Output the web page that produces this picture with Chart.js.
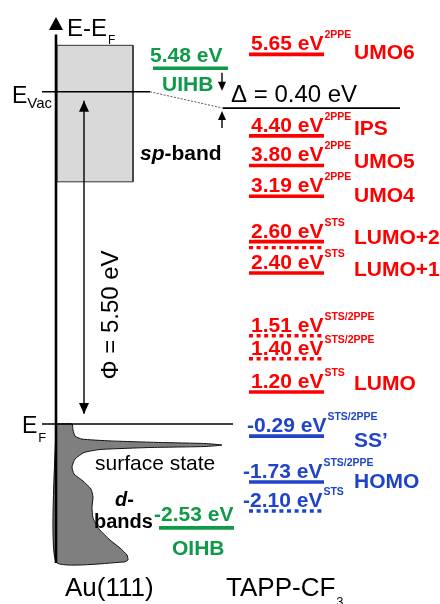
<!DOCTYPE html>
<html><head><meta charset="utf-8">
<script src="https://cdn.jsdelivr.net/npm/chart.js@4.4.0/dist/chart.umd.min.js"></script>
<style>html,body{margin:0;padding:0;background:#fff}#wrap{width:440px;height:604px;position:relative}</style>
</head><body><div id="wrap"><canvas id="c"></canvas></div>
<script>
// ---------- DATA (energies in eV; "drawn" = schematic height on the diagram's E-E_F axis) ----------
const levelValues    = ['5.65','4.40','3.80','3.19','2.60','','2.40','1.51','1.40','1.20','-0.29','-1.73','-2.10'];
const levelMethods   = ['2PPE','2PPE','2PPE','2PPE','STS','','STS','STS/2PPE','STS/2PPE','STS','STS/2PPE','STS/2PPE','STS'];
const levelNames     = ['UMO6','IPS','UMO5','UMO4','LUMO+2','','LUMO+1','','','LUMO','SS\u2019','HOMO',''];
const levelDrawn     = [6.12, 4.77, 4.28, 3.77, 3.02, 2.92, 2.50, 1.46, 1.08, 0.53, -0.20, -0.96, -1.44];
const levelTentative = [false,false,false,false,false,true,false,true,true,false,false,false,true];
const levelOccupied  = [false,false,false,false,false,false,false,false,false,false,true,true,true];

const imageStateNames  = ['UIHB','OIHB'];
const imageStateValues = ['5.48','-2.53'];
const imageStateDrawn  = [5.89, -1.72];

const workFunction   = '5.50';   // Φ
const vacuumShift    = '0.40';   // Δ
const metalVacuum    = 5.50;     // E_Vac of Au(111), drawn
const moleculeVacuum = 5.23;     // E_Vac above TAPP-CF3, drawn (schematic)
const fermiLevel     = 0;
const spBandTop = 6.27, spBandBottom = 4.01;

// schematic density of states outline of Au(111) (surface state + d-bands)
const dosEnergy = [0, 0, -0.10, -0.20, -0.25, -0.28, -0.306, -0.323, -0.348, -0.373, -0.389, -0.422, -0.472, -0.579, -0.712, -0.828, -0.944, -1.076, -1.209, -1.374, -1.556, -1.738, -1.921, -2.053, -2.169, -2.252, -2.285, -2.285, 0];
const dosWeight = [0, 16, 17, 19, 26, 54, 104, 149, 166, 149, 94, 44, 28, 19, 16, 18, 27, 35, 37, 36, 37, 43, 54, 64, 71, 72, 68, 0, 0];

// ---------- LAYOUT / STYLE ----------
const RED = '#ff0000', BLUE = '#1f44c8', GREEN = '#0f9a48';
const FF = '"Liberation Sans", Arial, Helvetica, sans-serif';
const axisX = 56;
const molX0 = 249, molX1 = 324;
const nameOffset = [5,-1,3,6,2,0,3,0,0,-2,11,6,0];

const datasets = [];
function seg(pts, opt) {
  datasets.push(Object.assign({data: pts.map(p => ({x: p[0], y: p[1]})), showLine: true, pointRadius: 0,
    borderColor: '#000', borderWidth: 1.5, fill: false, tension: 0, order: 1}, opt));
}
// sp-band box
seg([[57, spBandTop],[133, spBandTop],[133, spBandBottom],[57, spBandBottom],[57, spBandTop]],
  {fill: 'shape', backgroundColor: '#d9d9d9', borderColor: '#333', borderWidth: 1, order: 20});
// d-band DOS
seg(dosEnergy.map((e, i) => [axisX + dosWeight[i], e]),
  {fill: 'shape', backgroundColor: '#7f7f7f', borderColor: '#111', borderWidth: 1, tension: 0.15, order: 19});
// vertical energy axis
seg([[axisX, -2.30],[axisX, 6.45]], {borderWidth: 2.6, order: 2});
// vacuum levels and Fermi level
seg([[42, metalVacuum],[150, metalVacuum]], {borderWidth: 1.6});
seg([[150, metalVacuum],[223, moleculeVacuum]], {borderWidth: 1, borderColor: '#555', borderDash: [2, 1.5]});
seg([[223, moleculeVacuum],[400, moleculeVacuum]], {borderWidth: 1.6});
seg([[42, fermiLevel],[233, fermiLevel]], {borderWidth: 1.6});
// work-function arrow shaft
seg([[84, fermiLevel + 0.17],[84, metalVacuum - 0.15]], {borderWidth: 1.4});
// image-potential states of the metal
seg([[153, imageStateDrawn[0]],[228, imageStateDrawn[0]]], {borderColor: GREEN, borderWidth: 3.6});
seg([[159, imageStateDrawn[1]],[234, imageStateDrawn[1]]], {borderColor: GREEN, borderWidth: 3.6});
// molecular levels
levelDrawn.forEach((v, i) => {
  const col = levelOccupied[i] ? BLUE : RED;
  seg([[molX0 - (levelTentative[i] ? 0 : 0), v],[levelTentative[i] ? molX1 - 2 : molX1, v]],
    {borderColor: col, borderWidth: levelTentative[i] ? 3.4 : 3.6,
     borderDash: levelTentative[i] ? [4, 3.6] : undefined, borderCapStyle: 'butt'});
});

const annot = {
  id: 'annot',
  afterDatasetsDraw(chart) {
    const ctx = chart.ctx, X = v => chart.scales.x.getPixelForValue(v), Y = v => chart.scales.y.getPixelForValue(v);
    function t(s, x, y, font, col, align, base) {
      ctx.save(); ctx.font = font; ctx.fillStyle = col || '#000'; ctx.textAlign = align || 'left';
      ctx.textBaseline = base || 'alphabetic'; ctx.fillText(s, x, y); const w = ctx.measureText(s).width; ctx.restore(); return w;
    }
    function head(x, yTip, dir, hw, len) {
      ctx.save(); ctx.fillStyle = '#000'; ctx.beginPath(); ctx.moveTo(x, yTip);
      ctx.lineTo(x - hw, yTip + dir * len); ctx.lineTo(x + hw, yTip + dir * len); ctx.closePath(); ctx.fill(); ctx.restore();
    }
    function line(x0, y0, x1, y1, w) {
      ctx.save(); ctx.strokeStyle = '#000'; ctx.lineWidth = w; ctx.beginPath(); ctx.moveTo(x0, y0); ctx.lineTo(x1, y1); ctx.stroke(); ctx.restore();
    }
    // axis arrow head + label
    head(X(axisX), 17, 1, 7, 13);
    const w1 = t('E-E', 67, 36, '24px ' + FF);
    t('F', 67 + w1 + 1, 44, '12px ' + FF);
    // E_Vac / E_F labels
    const w2 = t('E', 12, 103, '23px ' + FF);
    t('Vac', 12 + w2 + 0, 108, '15px ' + FF);
    const w3 = t('E', 22, 433, '23px ' + FF);
    t('F', 22 + w3 + 1, 442, '13px ' + FF);
    // work function arrow
    head(X(84), Y(metalVacuum) + 9, 1, 5, 11);
    head(X(84), Y(fermiLevel) - 10, -1, 5, 11);
    ctx.save(); ctx.translate(118, 315); ctx.rotate(-Math.PI / 2);
    ctx.font = '24px ' + FF; ctx.fillStyle = '#000'; ctx.textAlign = 'center';
    ctx.fillText('\u03A6 = ' + workFunction + ' eV', 0, 0); ctx.restore();
    // Δ arrows + label
    line(X(222), Y(metalVacuum) - 19, X(222), Y(metalVacuum) - 6, 1.4);
    head(X(222), Y(metalVacuum) - 1, -1, 4, 9);
    line(X(222), Y(moleculeVacuum) + 10, X(222), Y(moleculeVacuum) + 20, 1.4);
    head(X(222), Y(moleculeVacuum) + 3, 1, 4, 9);
    t('\u0394 = ' + vacuumShift + ' eV', 231, 102, '24px ' + FF);
    // band labels
    let w = t('sp', 140, 160, 'italic bold 21px ' + FF);
    t('-band', 140 + w, 160, 'bold 21px ' + FF);
    t('surface state', 95, 470, '21px ' + FF);
    w = t('d', 115, 506, 'italic bold 20px ' + FF);
    t('-', 115 + w, 506, 'bold 20px ' + FF);
    t('bands', 94, 528, 'bold 20px ' + FF);
    // image potential states labels
    t(imageStateValues[0] + ' eV', 150, 62, 'bold 21px ' + FF, GREEN);
    t(imageStateNames[0], 162, 91, 'bold 21px ' + FF, GREEN);
    t(imageStateValues[1] + ' eV', 154, 521, 'bold 21px ' + FF, GREEN);
    t(imageStateNames[1], 172, 555, 'bold 21px ' + FF, GREEN);
    // molecular level labels
    levelDrawn.forEach((v, i) => {
      if (!levelValues[i]) return;
      const col = levelOccupied[i] ? BLUE : RED;
      const lx = levelValues[i].startsWith('-') ? (i === 10 ? 247 : 243) : 251;
      const by = Y(v) - 4;
      const lw = t(levelValues[i] + ' eV', lx, by, 'bold 21px ' + FF, col);
      t(levelMethods[i], lx + lw + 1, by - 12, 'bold 10.5px ' + FF, col);
      if (levelNames[i]) t(levelNames[i], 354, Y(v) + nameOffset[i], 'bold 21px ' + FF, col);
    });
    // bottom labels
    t('Au(111)', 65, 596, '26px ' + FF);
    w = t('TAPP-CF', 226, 596, '26px ' + FF);
    t('3', 226 + w + 1, 606, '13px ' + FF);
  }
};

new Chart(document.getElementById('c'), {
  type: 'scatter',
  data: {datasets},
  options: {
    responsive: true, maintainAspectRatio: false, animation: false,
    layout: {padding: 0},
    plugins: {legend: {display: false}, tooltip: {enabled: false}},
    scales: {
      x: {type: 'linear', min: 0, max: 440, display: false},
      y: {type: 'linear', min: -2.98, max: 7.02, display: false}
    }
  },
  plugins: [annot]
});
</script></body></html>
